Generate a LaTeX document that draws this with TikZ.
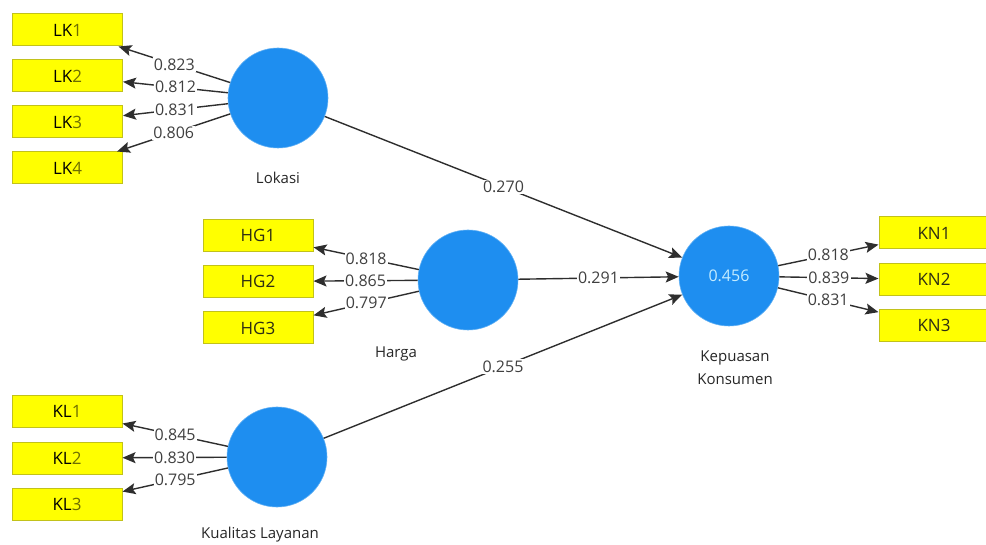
\documentclass[tikz,border=0pt]{standalone}
\usepackage{fontspec}
\setmainfont{Open Sans}
\usetikzlibrary{arrows.meta}
\definecolor{boxfill}{HTML}{FFFF00}
\definecolor{boxline}{HTML}{C2C21A}
\definecolor{circfill}{HTML}{1E8EF0}
\definecolor{numcol}{HTML}{404040}
\definecolor{digcol}{HTML}{6E6E00}
\definecolor{boxtext}{HTML}{2E2E14}
\definecolor{innertext}{HTML}{C4ECFF}
\begin{document}
\begin{tikzpicture}[x=1pt,y=-1pt,
  ind/.style={draw=boxline,line width=1pt,fill=boxfill,minimum width=110pt,minimum height=32pt,inner sep=0pt,font=\fontsize{17}{20}\selectfont,text=boxtext},
  lat/.style={circle,fill=circfill,draw=circfill!70!white,line width=0.6pt,minimum size=100pt,inner sep=0pt},
  lname/.style={font=\fontsize{15}{23}\selectfont,text=black!85,align=center},
  conn/.style={draw=black!82,line width=1.4pt,-{Stealth[length=13pt,width=11pt,inset=2.5pt]}},
  wt/.style={fill=white,inner sep=1.2pt,font=\fontsize{16}{17}\selectfont,text=numcol,pos=0.5}
]
\useasboundingbox (0,0) rectangle (986,545);
% latent variables
\node[lat] (lok) at (278,98) {};
\node[lat] (har) at (468,280) {};
\node[lat] (kl) at (277,457) {};
\node[lat,font=\fontsize{16}{18}\selectfont,text=innertext] (kep) at (729,276) {0.456};
% names
\node[lname] (nlok) at (278,178) {Lokasi};
\node[lname] (nhar) at (396,354) {Harga};
\node[lname] (nkl) at (260,535) {Kualitas Layanan};
\node[lname] (nkep) at (735,368) {Kepuasan\\Konsumen};
% indicators
\node[ind,text=black] (lk1) at (67.5,30) {LK\textcolor{digcol}{1}};
\node[ind,text=black] (lk2) at (67.5,76) {LK\textcolor{digcol}{2}};
\node[ind,text=black] (lk3) at (67.5,122) {LK\textcolor{digcol}{3}};
\node[ind,text=black] (lk4) at (67.5,168) {LK\textcolor{digcol}{4}};
\node[ind] (hg1) at (258,235.5) {HG1};
\node[ind] (hg2) at (258,281.5) {HG2};
\node[ind] (hg3) at (258,328) {HG3};
\node[ind,text=black] (kl1) at (67,411.5) {KL\textcolor{digcol}{1}};
\node[ind,text=black] (kl2) at (67,458) {KL\textcolor{digcol}{2}};
\node[ind,text=black] (kl3) at (67,504) {KL\textcolor{digcol}{3}};
\node[ind] (kn1) at (934,233) {KN1};
\node[ind] (kn2) at (934,279.5) {KN2};
\node[ind] (kn3) at (934,325.5) {KN3};
% outer loadings
\draw[conn] (lok) -- node[wt] {0.823} (lk1);
\draw[conn] (lok) -- node[wt] {0.812} (lk2);
\draw[conn] (lok) -- node[wt] {0.831} (lk3);
\draw[conn] (lok) -- node[wt] {0.806} (lk4);
\draw[conn] (har) -- node[wt] {0.818} (hg1);
\draw[conn] (har) -- node[wt] {0.865} (hg2);
\draw[conn] (har) -- node[wt] {0.797} (hg3);
\draw[conn] (kl) -- node[wt] {0.845} (kl1);
\draw[conn] (kl) -- node[wt] {0.830} (kl2);
\draw[conn] (kl) -- node[wt] {0.795} (kl3);
\draw[conn] (kep) -- node[wt] {0.818} (kn1);
\draw[conn] (kep) -- node[wt] {0.839} (kn2);
\draw[conn] (kep) -- node[wt] {0.831} (kn3);
% inner paths
\draw[conn] (lok) -- node[wt] {0.270} (kep);
\draw[conn] (har) -- node[wt] {0.291} (kep);
\draw[conn] (kl) -- node[wt] {0.255} (kep);
\end{tikzpicture}
\end{document}
